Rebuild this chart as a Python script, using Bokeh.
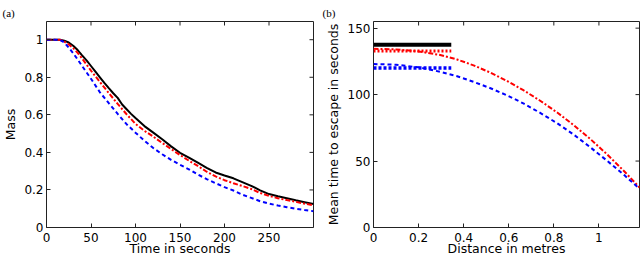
import math
from bokeh.plotting import figure
from bokeh.layouts import row
from bokeh.models import FixedTicker, Range1d
from bokeh.embed import file_html
from bokeh.resources import INLINE

# ---------------- Panel (a) data ----------------
time_black = [0, 15, 20, 25, 30, 35, 40, 45, 50, 55, 60, 65, 70, 75, 80, 85, 90, 95, 100,
              110, 120, 130, 140, 150, 160, 170, 180, 190, 200, 210, 220, 230, 240, 250,
              260, 270, 280, 290, 300]
mass_black = [1.0, 1.0, 0.995, 0.985, 0.968, 0.945, 0.917, 0.89, 0.86, 0.83, 0.80, 0.77,
              0.742, 0.715, 0.69, 0.655, 0.63, 0.605, 0.583, 0.54, 0.505, 0.47, 0.432,
              0.398, 0.372, 0.345, 0.318, 0.293, 0.277, 0.262, 0.242, 0.222, 0.198, 0.178,
              0.166, 0.156, 0.145, 0.135, 0.125]

time_model = [0, 15, 20, 25, 30, 35, 40, 50, 60, 70, 80, 90, 100, 110, 120, 130, 140, 150,
              160, 170, 180, 190, 200, 210, 220, 230, 240, 250, 260, 270, 280, 290, 300]
mass_red = [1.0, 1.0, 0.99, 0.975, 0.955, 0.93, 0.90, 0.835, 0.775, 0.716, 0.658, 0.603,
            0.552, 0.515, 0.484, 0.45, 0.418, 0.386, 0.356, 0.328, 0.297, 0.272, 0.252,
            0.236, 0.221, 0.205, 0.184, 0.168, 0.156, 0.146, 0.137, 0.127, 0.118]
mass_blue = [1.0, 1.0, 0.985, 0.958, 0.928, 0.895, 0.86, 0.792, 0.72, 0.662, 0.605, 0.55,
             0.505, 0.462, 0.423, 0.39, 0.36, 0.334, 0.31, 0.282, 0.258, 0.236, 0.215,
             0.197, 0.175, 0.158, 0.14, 0.127, 0.117, 0.108, 0.10, 0.093, 0.087]

a_xticks = [0, 50, 100, 150, 200, 250]
a_yticks = [0, 0.2, 0.4, 0.6, 0.8, 1]
a_ylabels = ["0", "0.2", "0.4", "0.6", "0.8", "1"]

# ---------------- Panel (b) data ----------------
dist_curve = [0, 0.1, 0.2, 0.296, 0.371, 0.444, 0.519, 0.593, 0.667, 0.741, 0.815,
              0.889, 0.963, 1.037, 1.111, 1.18]
escape_red = [134.5, 134.0, 132.5, 129.8, 126.4, 122.0, 116.5, 110.2, 103.1, 95.2, 86.5,
              76.9, 66.4, 54.9, 42.5, 30.1]
escape_blue = [123, 122.5, 120.5, 117.2, 113.8, 109.6, 104.8, 99.4, 93.2, 86.1, 78.4,
               69.8, 60.2, 50.1, 39.6, 29.2]

dist_sim = [0, 0.345]
escape_sim_black = [137.5, 137.5]
escape_sim_red = [132.8, 132.8]
escape_sim_blue = [120, 120]

b_xticks = [0, 0.2, 0.4, 0.6, 0.8, 1]
b_xlabels = ["0", "0.2", "0.4", "0.6", "0.8", "1"]
b_yticks = [0, 50, 100, 150]

FONT = "DejaVu Sans"
SERIF = "Liberation Serif"
BOX = "#222222"


def style(p, xticks, yticks, xr, yr, panel_text, title_offset, xover=None, yover=None,
          ylab_standoff=3):
    p.xgrid.visible = False
    p.ygrid.visible = False
    p.outline_line_color = BOX
    p.outline_line_width = 1
    for ax in p.xaxis + p.yaxis:
        ax.axis_line_color = None
        ax.major_tick_in = 4
        ax.major_tick_out = 0
        ax.major_tick_line_color = BOX
        ax.minor_tick_line_color = None
        ax.major_label_text_font = FONT
        ax.major_label_text_font_size = "12px"
        ax.major_label_text_color = "black"
        ax.axis_label_text_font = FONT
        ax.axis_label_text_font_size = "12.5px"
        ax.axis_label_text_font_style = "normal"
        ax.axis_label_text_color = "black"
    p.xaxis.ticker = FixedTicker(ticks=xticks)
    p.yaxis.ticker = FixedTicker(ticks=yticks)
    p.xaxis.major_label_standoff = 5
    p.yaxis.major_label_standoff = 3
    p.xaxis.axis_label_standoff = -4
    p.yaxis.axis_label_standoff = ylab_standoff
    if xover:
        p.xaxis.major_label_overrides = xover
    if yover:
        p.yaxis.major_label_overrides = yover
    # mirrored inward ticks on the top and right edges (half of each dash is clipped)
    p.scatter(x=xticks, y=[yr[1]] * len(xticks), marker="dash", size=8, angle=math.pi / 2,
              line_color=BOX, line_width=1)
    p.scatter(x=[xr[1]] * len(yticks), y=yticks, marker="dash", size=8, angle=0,
              line_color=BOX, line_width=1)
    # panel letter
    p.title.text = panel_text
    p.title.align = "left"
    p.title.offset = title_offset
    p.title.text_font = SERIF
    p.title.text_font_size = "11px"
    p.title.text_font_style = "normal"
    p.title.text_color = "black"
    p.title.standoff = 6


# ---------------- Figure (a) ----------------
a_xr = (0, 300)
a_yr = (0, 1.097)
pa = figure(width=320, height=258, output_backend="svg", toolbar_location=None,
            x_range=Range1d(*a_xr), y_range=Range1d(*a_yr),
            min_border_left=45, min_border_right=7, min_border_top=21, min_border_bottom=29,
            x_axis_label="Time in seconds", y_axis_label="Mass")
pa.line(time_black, mass_black, color="black", line_width=2)
pa.line(time_model, mass_red, color="red", line_width=2, line_dash="5 2 2 2")
pa.line(time_model, mass_blue, color="blue", line_width=2, line_dash="4 3")
style(pa, a_xticks, a_yticks, a_xr, a_yr, "(a)", -44,
      yover=dict(zip(a_yticks, a_ylabels)), ylab_standoff=3)

# ---------------- Figure (b) ----------------
b_xr = (0, 1.18)
b_yr = (0, 155)
pb = figure(width=320, height=258, output_backend="svg", toolbar_location=None,
            x_range=Range1d(*b_xr), y_range=Range1d(*b_yr),
            min_border_left=53, min_border_right=1, min_border_top=21, min_border_bottom=29,
            x_axis_label="Distance in metres", y_axis_label="Mean time to escape in seconds")
pb.line(dist_sim, escape_sim_black, color="black", line_width=4)
pb.line(dist_sim, escape_sim_red, color="red", line_width=3, line_dash="2 2")
pb.line(dist_sim, escape_sim_blue, color="blue", line_width=3.5, line_dash="3 2")
pb.line(dist_curve, escape_red, color="red", line_width=2, line_dash="5 2 2 2")
pb.line(dist_curve, escape_blue, color="blue", line_width=2, line_dash="4 3")
style(pb, b_xticks, b_yticks, b_xr, b_yr, "(b)", -51,
      xover=dict(zip(b_xticks, b_xlabels)), ylab_standoff=4)

layout = row(pa, pb)
open("out.html", "w").write(file_html(layout, INLINE))
